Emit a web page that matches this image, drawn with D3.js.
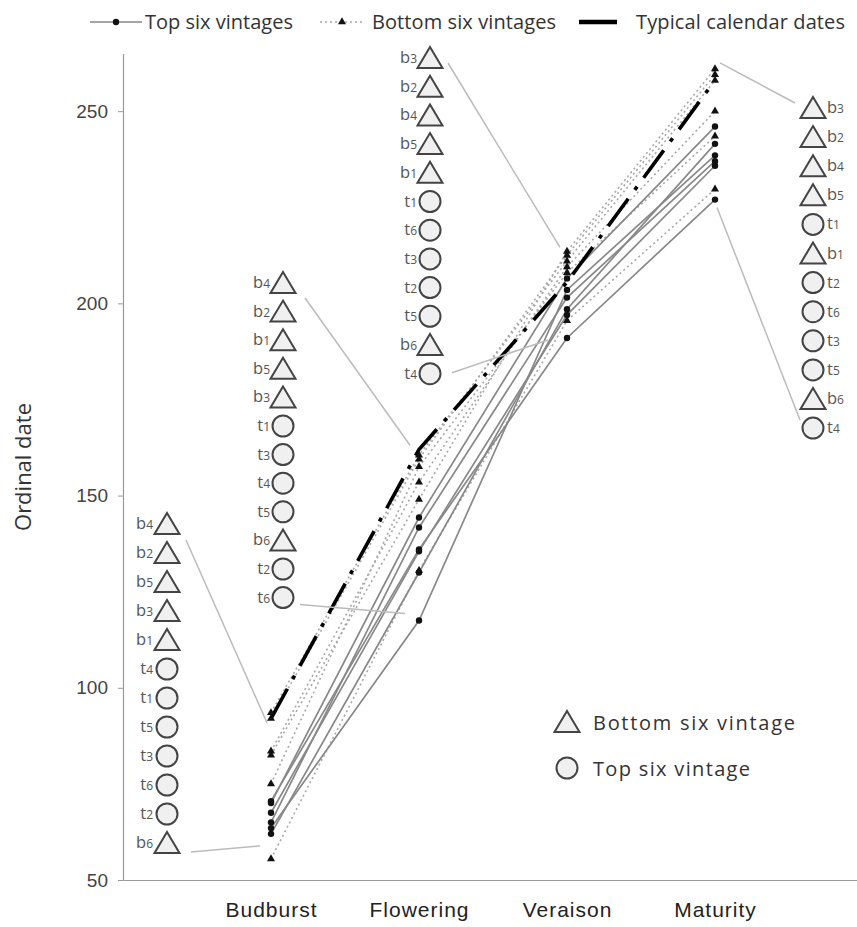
<!DOCTYPE html>
<html>
<head>
<meta charset="utf-8">
<script src="https://cdn.jsdelivr.net/npm/d3@7"></script>
<style>
  body { margin: 0; background: #fff; }
  svg { font-family: "Open Sans", "DejaVu Sans", sans-serif; }
</style>
</head>
<body>
<div id="chart"></div>
<script>
// stages along the x axis
var stages = ["Budburst", "Flowering", "Veraison", "Maturity"];

// vintages: t = top six, b = bottom six
var vintages = ["t1", "t2", "t3", "t4", "t5", "t6", "b1", "b2", "b3", "b4", "b5", "b6"];

// ordinal dates per stage, in the order of `vintages`
var budburst  = [70, 62, 65, 70.5, 67.5, 63.5, 75, 92, 82.5, 93.5, 83.5, 55.5];
var flowering = [144.3, 130, 141.7, 136, 135.5, 117.5, 157.5, 159.5, 149, 160.5, 153.5, 130.5];
var veraison  = [206.5, 198.5, 201.5, 191, 197, 203.5, 208, 212.5, 213.5, 211, 209.5, 195.5];
var maturity  = [246, 241.5, 237, 227, 235.8, 238.5, 243.5, 259.5, 261, 258, 250, 229.7];

// typical calendar dates for the four stages
var typical = [92, 162, 205.5, 258];

var yTicks = [50, 100, 150, 200, 250];

var svgWidth = 857;
var svgHeight = 927;

var svg = d3.select("#chart")
  .append("svg")
  .attr("width", svgWidth)
  .attr("height", svgHeight);

// x: one empty slot on each side of the four stages
var x = d3.scalePoint()
  .domain(["_s"].concat(stages, ["_e"]))
  .range([123, 863]);

var y = d3.scaleLinear()
  .domain([50, 265])
  .range([880, 53.5]);

var stageData = [budburst, flowering, veraison, maturity];

var series = vintages.map(function(v, i) {
  return {
    name: v,
    top: v[0] === "t",
    values: stages.map(function(s, j) { return { stage: s, value: stageData[j][i] }; })
  };
});

// y axis
var yAxis = svg.append("g")
  .attr("transform", "translate(123,0)")
  .call(d3.axisLeft(y).tickValues(yTicks).tickSize(5).tickSizeOuter(0).tickPadding(10));
yAxis.select(".domain").attr("stroke", "#999").attr("stroke-width", 1.2);
yAxis.selectAll(".tick line").attr("stroke", "#999");
yAxis.selectAll("text").attr("fill", "#444").style("font-size", "19px");

svg.append("text")
  .attr("transform", "translate(31,467) rotate(-90)")
  .attr("text-anchor", "middle")
  .attr("fill", "#333")
  .style("font-size", "22px")
  .text("Ordinal date");

// x axis
var xAxis = svg.append("g")
  .attr("transform", "translate(0,880)")
  .call(d3.axisBottom(x).tickSize(0).tickSizeOuter(0).tickPadding(22)
    .tickFormat(function(d) { return d[0] === "_" ? "" : d; }));
xAxis.select(".domain").attr("stroke", "#999").attr("stroke-width", 1.2);
xAxis.selectAll("text").attr("fill", "#222")
  .style("font-size", "21px").style("letter-spacing", "1px");

var line = d3.line()
  .x(function(d) { return x(d.stage); })
  .y(function(d) { return y(d.value); });

// bottom six (dotted) first, then top six (solid)
svg.append("g").selectAll("path")
  .data(series.filter(function(d) { return !d.top; }))
  .enter()
  .append("path")
  .attr("d", function(d) { return line(d.values); })
  .attr("fill", "none")
  .attr("stroke", "#a8a8a8")
  .attr("stroke-width", 1.6)
  .attr("stroke-dasharray", "2,3");

svg.append("g").selectAll("path")
  .data(series.filter(function(d) { return d.top; }))
  .enter()
  .append("path")
  .attr("d", function(d) { return line(d.values); })
  .attr("fill", "none")
  .attr("stroke", "#888")
  .attr("stroke-width", 1.7);

// typical calendar dates
svg.append("path")
  .attr("d", line(stages.map(function(s, j) { return { stage: s, value: typical[j] }; })))
  .attr("fill", "none")
  .attr("stroke", "#000")
  .attr("stroke-width", 3.6)
  .attr("stroke-dasharray", "34,11,4,11");

// point markers
var markerTri = d3.symbol().type(d3.symbolTriangle).size(28);
series.forEach(function(s) {
  var g = svg.append("g");
  if (s.top) {
    g.selectAll("circle")
      .data(s.values)
      .enter()
      .append("circle")
      .attr("cx", function(d) { return x(d.stage); })
      .attr("cy", function(d) { return y(d.value); })
      .attr("r", 3.2)
      .attr("fill", "#111");
  } else {
    g.selectAll("path")
      .data(s.values)
      .enter()
      .append("path")
      .attr("d", markerTri)
      .attr("transform", function(d) { return "translate(" + x(d.stage) + "," + y(d.value) + ")"; })
      .attr("fill", "#111");
  }
});

// ranking columns of symbols, latest date on top
var columns = [
  { stage: 0, symX: 167, labelX: 153, anchor: "end",   y0: 524, step: 29.0,
    conn: [[19, 16, -4, 10], [24, 9, -11, -13]] },
  { stage: 1, symX: 283, labelX: 270, anchor: "end",   y0: 283, step: 28.6,
    conn: [[22, 15, -9, -10], [17, 7, -14, -7]] },
  { stage: 2, symX: 430, labelX: 417, anchor: "end",   y0: 58,  step: 28.7,
    conn: [[18, 5, -7, -4], [22, -1, -19, 2]] },
  { stage: 3, symX: 813, labelX: 827, anchor: "start", y0: 108, step: 29.1,
    conn: [[-18, -5, 5, -6], [-13, -8, 2, 8]] }
];

function triPath(cx, cy) {
  return "M" + cx + "," + (cy - 11) + "L" + (cx + 12.5) + "," + (cy + 10) + "L" + (cx - 12.5) + "," + (cy + 10) + "Z";
}

columns.forEach(function(c) {
  var vals = stageData[c.stage];
  var order = vintages.map(function(v, i) { return { name: v, value: vals[i] }; })
    .sort(function(a, b) { return b.value - a.value; });

  var g = svg.append("g");
  var sx = x(stages[c.stage]);
  var first = order[0], last = order[order.length - 1];
  var yLast = c.y0 + c.step * (order.length - 1);

  // connector lines from the column to the point cluster
  g.append("line")
    .attr("x1", c.symX + c.conn[0][0]).attr("y1", c.y0 + c.conn[0][1])
    .attr("x2", sx + c.conn[0][2]).attr("y2", y(first.value) + c.conn[0][3])
    .attr("stroke", "#bbb").attr("stroke-width", 1.5);
  g.append("line")
    .attr("x1", c.symX + c.conn[1][0]).attr("y1", yLast + c.conn[1][1])
    .attr("x2", sx + c.conn[1][2]).attr("y2", y(last.value) + c.conn[1][3])
    .attr("stroke", "#bbb").attr("stroke-width", 1.5);

  order.forEach(function(d, i) {
    var cy = c.y0 + c.step * i;
    if (d.name[0] === "b") {
      g.append("path").attr("d", triPath(c.symX, cy))
        .attr("fill", "#f0f0f0").attr("stroke", "#444").attr("stroke-width", 2);
    } else {
      g.append("circle").attr("cx", c.symX).attr("cy", cy).attr("r", 10.5)
        .attr("fill", "#f0f0f0").attr("stroke", "#444").attr("stroke-width", 2);
    }
    var t = g.append("text")
      .attr("x", c.labelX).attr("y", cy + 5)
      .attr("text-anchor", c.anchor)
      .attr("fill", "#555")
      .style("font-size", "16.5px")
      .text(d.name[0]);
    t.append("tspan").style("font-size", "12px").text(d.name.slice(1));
  });
});

// top legend
var legend = svg.append("g");
legend.append("line").attr("x1", 90).attr("x2", 142).attr("y1", 22).attr("y2", 22)
  .attr("stroke", "#888").attr("stroke-width", 1.7);
legend.append("circle").attr("cx", 116).attr("cy", 22).attr("r", 3.2).attr("fill", "#111");
legend.append("text").attr("x", 145).attr("y", 29).attr("textLength", 148)
  .attr("fill", "#333").style("font-size", "20px").text("Top six vintages");

legend.append("line").attr("x1", 320).attr("x2", 363).attr("y1", 22).attr("y2", 22)
  .attr("stroke", "#a8a8a8").attr("stroke-width", 1.6).attr("stroke-dasharray", "2,3");
legend.append("path").attr("d", markerTri).attr("transform", "translate(342,22)").attr("fill", "#111");
legend.append("text").attr("x", 372).attr("y", 29).attr("textLength", 184)
  .attr("fill", "#333").style("font-size", "20px").text("Bottom six vintages");

legend.append("line").attr("x1", 579).attr("x2", 617).attr("y1", 22).attr("y2", 22)
  .attr("stroke", "#000").attr("stroke-width", 4.5);
legend.append("text").attr("x", 636).attr("y", 29).attr("textLength", 209)
  .attr("fill", "#333").style("font-size", "20px").text("Typical calendar dates");

// symbol legend, bottom right
var legend2 = svg.append("g");
legend2.append("path").attr("d", triPath(567, 722))
  .attr("fill", "#f0f0f0").attr("stroke", "#444").attr("stroke-width", 2);
legend2.append("text").attr("x", 593).attr("y", 730).attr("textLength", 202)
  .attr("fill", "#333").style("font-size", "20px").text("Bottom six vintage");
legend2.append("circle").attr("cx", 567).attr("cy", 768).attr("r", 10.5)
  .attr("fill", "#f0f0f0").attr("stroke", "#444").attr("stroke-width", 2);
legend2.append("text").attr("x", 593).attr("y", 776).attr("textLength", 157)
  .attr("fill", "#333").style("font-size", "20px").text("Top six vintage");
</script>
</body>
</html>
